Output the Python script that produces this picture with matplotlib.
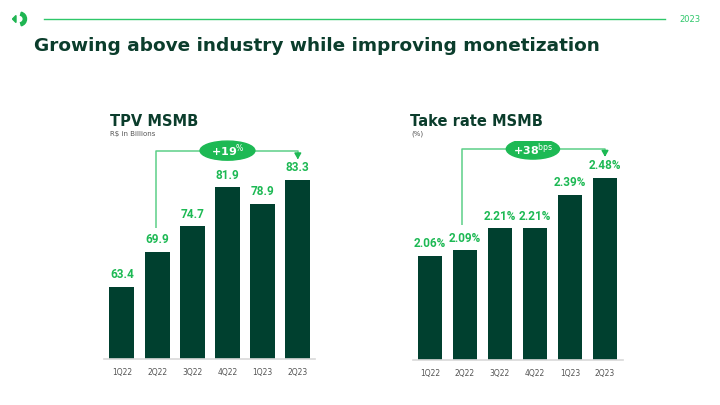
import matplotlib
matplotlib.use("Agg")
import matplotlib.pyplot as plt
from matplotlib.patches import Ellipse, Wedge, Polygon
import matplotlib.transforms as mtransforms

quarters = ["1Q22", "2Q22", "3Q22", "4Q22", "1Q23", "2Q23"]
tpv = [63.4, 69.9, 74.7, 81.9, 78.9, 83.3]
take_rate = [2.06, 2.09, 2.21, 2.21, 2.39, 2.48]
tpv_labels = ["63.4", "69.9", "74.7", "81.9", "78.9", "83.3"]
rate_labels = ["2.06%", "2.09%", "2.21%", "2.21%", "2.39%", "2.48%"]

DARK = "#00402f"
GREEN = "#1db954"
LINE_GREEN = "#5ccf88"
TITLE = "#0b3d2c"

plt.rcParams['font.family'] = ['DejaVu Sans']

fig = plt.figure(figsize=(7.2, 4.05), dpi=100)
fig.patch.set_facecolor("white")

# pixel transform (top-left origin)
px = mtransforms.Affine2D().scale(1 / 720, -1 / 405).translate(0, 1) + fig.transFigure


def setup(ax, ylim):
    ax.set_xlim(-0.5, 5.5)
    ax.set_ylim(*ylim)
    for s in ["top", "right", "left"]:
        ax.spines[s].set_visible(False)
    ax.spines["bottom"].set_color("#d9d9d9")
    ax.spines["bottom"].set_linewidth(1.2)
    ax.set_yticks([])
    ax.set_xticks(range(len(quarters)))
    ax.set_xticklabels(quarters, fontsize=5.5, color="#555555")
    ax.tick_params(axis="x", length=0, pad=6.5)
    ax.patch.set_alpha(0)


LBL = dict(ha="center", va="bottom", fontsize=8.5, fontweight="bold", color=GREEN,
           family=["Roboto", "DejaVu Sans"])

# Left chart
ax1 = fig.add_axes([104.4 / 720, 1 - 359 / 405, 211 / 720, 219 / 405])
setup(ax1, (50, 50 + 219 / 5.377))
ax1.bar(range(6), tpv, width=0.71, color=DARK, bottom=0)
for i, (v, t) in enumerate(zip(tpv, tpv_labels)):
    ax1.annotate(t, (i, v), xytext=(0, 4), textcoords="offset points", **LBL)
ax1.plot([0.96, 0.96, 5, 5], [74.3, 88.75, 88.75, 87.9], color=LINE_GREEN, lw=1.1, solid_capstyle="butt")
ax1.annotate("", xy=(5, 86.6), xytext=(5, 88.2),
             arrowprops=dict(arrowstyle="-|>,head_length=0.35,head_width=0.2", color=GREEN, lw=1.1))
ax1.add_patch(Ellipse((3.0, 88.75), 1.56, 3.55, color=GREEN, zorder=3))
ax1.text(3.0, 88.75, "+19$^{\\%}$", ha="center", va="center", color="white",
         fontsize=8, fontweight="bold", zorder=4)

# Right chart
ax2 = fig.add_axes([412.5 / 720, 1 - 360 / 405, 210 / 720, 219 / 405])
setup(ax2, (1.5, 1.5 + 219 / 185.7))
ax2.bar(range(6), take_rate, width=0.71, color=DARK)
for i, (v, t) in enumerate(zip(take_rate, rate_labels)):
    ax2.annotate(t, (i, v), xytext=(0, 4), textcoords="offset points", **LBL)
ax2.plot([0.9, 0.9, 5, 5], [2.227, 2.636, 2.636, 2.61], color=LINE_GREEN, lw=1.1, solid_capstyle="butt")
ax2.annotate("", xy=(5, 2.579), xytext=(5, 2.625),
             arrowprops=dict(arrowstyle="-|>,head_length=0.35,head_width=0.2", color=GREEN, lw=1.1))
ax2.add_patch(Ellipse((2.94, 2.636), 1.52, 0.108, color=GREEN, zorder=3))
ax2.text(2.94, 2.634, "+38$^{\\mathrm{bps}}$", ha="center", va="center", color="white",
         fontsize=8, fontweight="bold", zorder=4)

# Titles
fig.text(110 / 720, 1 - 121 / 405, "TPV MSMB", fontsize=10.5, fontweight="bold", color=TITLE, va="center")
fig.text(110 / 720, 1 - 134 / 405, "R$ in Billions", fontsize=5, color="#555555", va="center")
fig.text(410 / 720, 1 - 121 / 405, "Take rate MSMB", fontsize=10.5, fontweight="bold", color=TITLE, va="center")
fig.text(411 / 720, 1 - 134 / 405, "(%)", fontsize=5, color="#555555", va="center")

fig.text(34 / 720, 1 - 46 / 405, "Growing above industry while improving monetization",
         fontsize=13.3, fontweight="bold", color=TITLE, va="center")

# Header line and year
fig.add_artist(plt.Line2D([44, 665], [19, 19], transform=px, color="#2ec76a", lw=1))
fig.text(701 / 720, 1 - 19 / 405, "2023", fontsize=6, color="#2ec76a", va="center", ha="right")

# Logo
fig.add_artist(Wedge((19.5, 19), 7, -75, 75, width=3.2, transform=px, color="#1fb552"))
fig.add_artist(Polygon([[12.5, 19], [16, 15.5], [16, 22.5]], closed=True, transform=px, color="#1fb552"))

fig.savefig("out.png", dpi=100, facecolor="white")
